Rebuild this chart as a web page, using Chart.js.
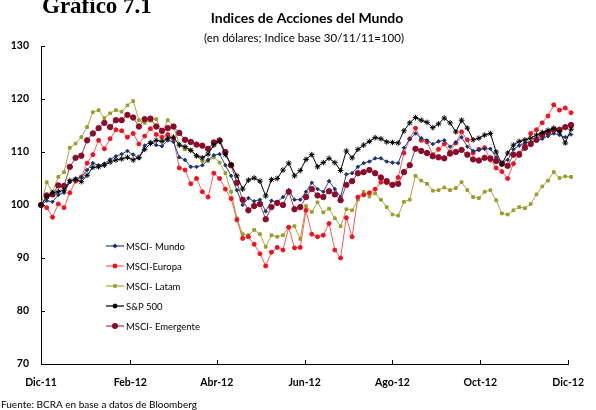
<!DOCTYPE html>
<html>
<head>
<meta charset="utf-8">
<script src="https://cdn.jsdelivr.net/npm/chart.js@4"></script>
<style>
  html, body { margin: 0; padding: 0; background: #fff; }
  #wrap { width: 596px; height: 410px; position: relative; }
</style>
</head>
<body>
<div id="wrap"><canvas id="acciones-chart" width="596" height="410"></canvas></div>
<script>
// days since 30/11/11, sampled every 4 days
const days = [0,4,8,12,16,20,24,28,32,36,40,44,48,52,56,60,64,68,72,76,80,84,88,92,96,100,
  104,108,112,116,120,124,128,132,136,140,144,148,152,156,160,164,168,172,176,180,184,188,192,196,200,
  204,208,212,216,220,224,228,232,236,240,244,248,252,256,260,264,268,272,276,280,284,288,292,296,300,
  304,308,312,316,320,324,328,332,336,340,344,348,352,356,360,364,368,370];

const mundo = [100,100.8,100.6,101.9,102.3,104.3,105,105.2,106.6,107.9,107.5,107.8,108.6,109.2,109.6,110.2,
  109.5,108.8,111.2,111.9,111.3,111.1,112.2,111.9,109,108.5,107.2,107.2,107.5,108.5,109.4,109.6,107.5,105.5,
  102.8,100,101.3,100.7,101,98.8,100.8,100.6,101.5,102.8,101,101,102.5,104.2,103,102.5,104.5,103,101.5,105.8,
  106,107.2,107.9,108.2,108.8,108.8,108.2,108,107.9,110.8,112.4,113.5,112.6,112.2,111.5,112,112.2,111,111.8,
  112.8,111,110.2,110.4,110.6,110.6,109,108,108.5,110.5,111.2,111.7,111.9,112.1,112.5,113,113.5,113.2,112.8,113.3,113.6];

const europa = [100,99.5,97.7,100.2,99.5,102.3,104.5,105.3,107.9,109.5,112.2,110.6,112.5,114.2,114,112.8,
  113.5,111.5,113,114.4,113.3,112.8,113.3,112.5,107,106.6,104,105,102.5,101.5,106,105,103,101.2,97.2,93.7,
  94,92.6,90.8,88.5,91.1,92,91.5,95.8,91.9,92,99,94.5,94,94.3,96.5,91.5,90,97.6,94,101.5,101.9,102.3,103,
  104.3,104.2,103.8,105.2,109.8,112.5,114.5,112.2,111.9,109.5,110.5,111.5,110,111.7,113.8,112.3,109.8,110.5,
  110.8,108.5,107,106.3,105,107.8,109.8,111.3,113.5,114.2,115.5,116.8,118.9,117.9,118.3,117.4,117.4];

const latam = [100,104.3,102.5,105.3,106.2,110.8,111.6,112.8,114.7,117.5,117.9,116.4,117.3,117.9,117.6,118.8,
  119.6,116,115.5,115.9,116.2,113.8,116,114.9,111.5,110.5,110.4,109.2,108.3,108.3,109,108,106,102.5,97.5,94.5,
  94.3,95.3,94.5,92.1,94.3,94,94.3,95.8,96,93.6,99.8,98.7,100.5,98.6,99.3,97.5,96,99.2,99,101,102.5,101.6,
  102.2,101,99.6,98.2,98,100.6,101,105.5,104.6,104,102.7,102.8,103.3,102.8,103.2,104.3,102.8,101.5,101.3,
  102.5,102.8,100.9,98.4,98.2,99,99.6,99.4,100.2,102,103.5,104.6,106.2,105.1,105.4,105.3,105.3];

const sp500 = [100,101.5,102.3,102.5,102.8,104.6,104.8,104.4,105.6,107.1,107.2,107.5,108.1,108.5,108.7,109,
  108.5,109,110.5,111.6,112.2,112,112.6,112.8,111.3,111,110.3,109.3,108.9,109.6,111.3,112,109.5,107.6,105.5,
  103,104.7,105.1,104.5,101.7,104.8,105,106.6,107.9,105.5,106.5,108.6,109.5,107.2,108,108.8,108,106.5,110.2,
  108.9,110.5,111.3,112,112.7,112.5,111.9,111.8,111.7,114,115.5,116.5,116,115.6,114.6,115.3,116.4,115.5,113.8,
  116,114.5,112.3,112.6,113.2,113.5,110,107.7,109.8,111.3,112,112.3,112.6,113.2,113.7,114.1,114.5,113.8,111.7,114.3,115.3];

const emergente = [100,101.8,102,103.7,103.6,107.2,108.9,109.3,112.2,113.5,114.5,115.5,114.7,116,116,117,
  116.5,114.8,116.2,116.3,114.8,114,114.5,114.8,113.6,112.3,111.9,111.4,111.2,110.6,111.8,112.2,110,107.5,104.2,
  101,99,99.8,100.2,97.3,99.6,100.4,100,102.5,99.2,99.6,101.5,103,101.8,101.5,102.6,102,100.9,103.8,104.5,106,
  106.2,106.6,106,105.2,104.5,103.8,104,106.2,107.5,110.6,110.2,109.8,109.2,109,108.8,109.7,110,110.4,109.5,
  108.6,108.4,108.9,108.8,108.3,107.8,107.4,109.5,109.5,110.8,111.5,112.3,113.2,113.7,114.2,114.2,114.7,115.1,115.5];

// x axis: day positions of the labelled months
const monthDays = [0, 62, 122, 183, 244, 305, 366];
const monthLabels = ['Dic-11', 'Feb-12', 'Abr-12', 'Jun-12', 'Ago-12', 'Oct-12', 'Dic-12'];
const yTicks = [70, 80, 90, 100, 110, 120, 130];

const FONT = 'Lato, "Open Sans", "DejaVu Sans", sans-serif';

function serie(label, values, color, lineColor, style, radius, order) {
  return {
    label: label,
    data: values.map((v, i) => ({ x: days[i], y: v })),
    borderColor: lineColor,
    backgroundColor: color,
    pointBorderColor: color,
    pointBackgroundColor: color,
    borderWidth: 1,
    pointStyle: style,
    pointRadius: radius,
    pointBorderWidth: 1,
    tension: 0,
    clip: false,
    order: order
  };
}

const series = [
  serie('MSCI- Mundo', mundo, '#1d336e', '#2b4486', 'rectRot', 1.8, 3),
  serie('MSCI-Europa', europa, '#f2101e', '#ff5a5a', 'circle', 2, 4),
  serie('MSCI- Latam', latam, '#9c9c2c', '#a8a840', 'rect', 1.9, 5),
  serie('S&P 500', sp500, '#000000', '#000000', 'star', 2.8, 1),
  serie('MSCI- Emergente', emergente, '#8a0a2a', '#a83a50', 'circle', 2.7, 2)
];

// texts, legend and inward tick marks
const decoPlugin = {
  id: 'deco',
  afterDraw(chart) {
    const ctx = chart.ctx;
    const xs = chart.scales.x, ys = chart.scales.y;
    ctx.save();
    ctx.strokeStyle = '#000';
    ctx.lineWidth = 1;
    ctx.beginPath();
    yTicks.forEach(v => {
      const py = Math.round(ys.getPixelForValue(v)) + 0.5;
      ctx.moveTo(xs.left, py); ctx.lineTo(xs.left + 4, py);
    });
    monthDays.forEach(d => {
      const px = Math.round(xs.getPixelForValue(d)) + 0.5;
      ctx.moveTo(px, ys.bottom); ctx.lineTo(px, ys.bottom - 4);
    });
    ctx.stroke();

    // headings
    ctx.fillStyle = '#000';
    ctx.textBaseline = 'alphabetic';
    ctx.textAlign = 'left';
    ctx.font = 'bold 23px "Liberation Serif", "DejaVu Serif", serif';
    ctx.fillText('Gráfico 7.1', 42, 13);
    ctx.textAlign = 'center';
    ctx.font = 'bold 14px ' + FONT;
    ctx.fillText('Indices de Acciones del Mundo', 307, 23);
    ctx.font = '11.5px ' + FONT;
    ctx.fillText('(en dólares; Indice base 30/11/11=100)', 304, 42);
    ctx.textAlign = 'left';
    ctx.font = '10px ' + FONT;
    ctx.fillText('Fuente: BCRA en base a datos de Bloomberg', 1, 408);

    // legend
    ctx.font = '9.5px ' + FONT;
    ctx.textBaseline = 'middle';
    chart.data.datasets.forEach((ds, i) => {
      const y = 246 + i * 20;
      ctx.strokeStyle = ds.borderColor;
      ctx.lineWidth = 1.2;
      ctx.beginPath();
      ctx.moveTo(106, y); ctx.lineTo(124, y);
      ctx.stroke();
      ctx.fillStyle = ds.pointBackgroundColor;
      ctx.strokeStyle = ds.pointBorderColor;
      Chart.helpers.drawPoint(ctx, {
        pointStyle: ds.pointStyle, radius: ds.pointRadius * 0.9, rotation: 0, borderWidth: 1
      }, 115, y);
      ctx.fillStyle = '#000';
      ctx.fillText(ds.label, 126, y + 0.5);
    });
    ctx.restore();
  }
};

const ctxChart = document.querySelector('#acciones-chart').getContext('2d');

const accionesChart = new Chart(ctxChart, {
  type: 'line',
  data: { datasets: series },
  plugins: [decoPlugin],
  options: {
    responsive: false,
    animation: false,
    layout: { padding: { top: 46, right: 19, left: 0, bottom: 0 } },
    plugins: {
      legend: { display: false },
      title: { display: false },
      tooltip: { enabled: false }
    },
    scales: {
      x: {
        type: 'linear',
        min: 0,
        max: 366,
        afterFit(scale) { scale.height = 46; },
        afterBuildTicks(scale) { scale.ticks = monthDays.map(v => ({ value: v })); },
        grid: { display: false, drawTicks: false },
        border: { display: true, color: '#000', width: 1 },
        ticks: {
          autoSkip: false,
          maxRotation: 0,
          padding: 12,
          color: '#000',
          font: { family: FONT, size: 10.5, weight: 'bold' },
          callback: (v) => monthLabels[monthDays.indexOf(v)]
        }
      },
      y: {
        min: 70,
        max: 130,
        afterFit(scale) { scale.width = 41; },
        afterBuildTicks(scale) { scale.ticks = yTicks.map(v => ({ value: v })); },
        grid: { display: false, drawTicks: false },
        border: { display: true, color: '#000', width: 1 },
        ticks: {
          padding: 12,
          color: '#000',
          font: { family: FONT, size: 10.5, weight: 'bold' }
        }
      }
    }
  }
});
</script>
</body>
</html>
